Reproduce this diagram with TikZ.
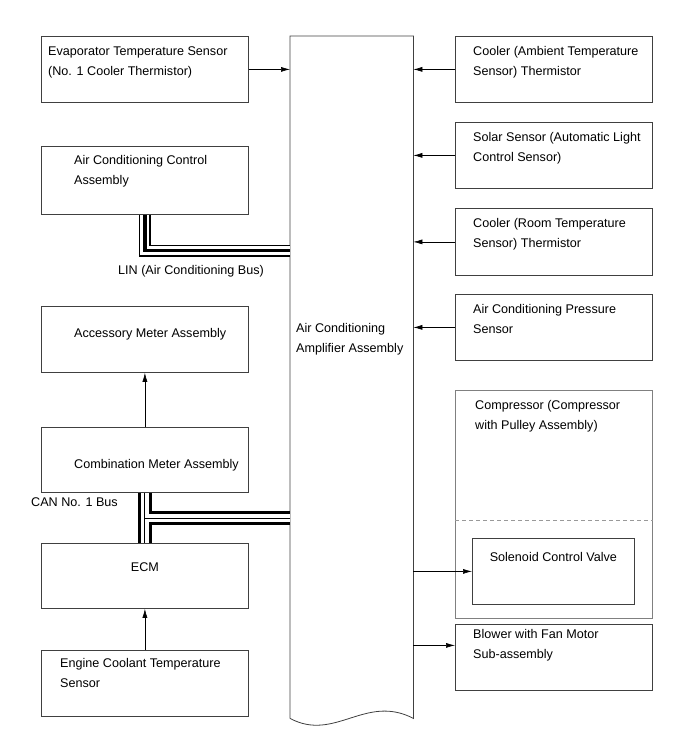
\documentclass[tikz,border=0pt]{standalone}
\usepackage{fontspec}
\setmainfont{Liberation Sans}
\usetikzlibrary{arrows.meta,positioning}
\newcommand{\boxfont}{\fontsize{12.6}{20}\selectfont}
\tikzset{
  unitbox/.style={draw=black!75,line width=0.8pt,minimum width=207pt,minimum height=66pt,anchor=north west,inner sep=0pt},
  partbox/.style={unitbox,minimum width=197pt},
  boxtext/.style={anchor=north west,inner sep=0pt,align=left,font=\boxfont},
  sig/.style={-{Latex[length=9pt,width=5pt]},line width=0.6pt},
  linbus/.style={line width=3.5pt,preaction={draw,black,line width=12pt},preaction={draw,white,line width=9pt}},
  canbus/.style={line width=1pt,preaction={draw,black,line width=14pt},preaction={draw,white,line width=8pt}}
}
\begin{document}
\begin{tikzpicture}[x=1pt,y=-1pt]
\useasboundingbox (0,0) rectangle (690,756);
% left column
\node[unitbox] (evap) at (41,36) {};
\node[unitbox,minimum height=68pt] (acctrl) at (41,146) {};
\node[unitbox] (accmeter) at (41,306) {};
\node[unitbox,minimum height=65pt] (combmeter) at (41,427) {};
\node[unitbox,minimum height=65pt] (ecm) at (41,543) {};
\node[unitbox] (ectsensor) at (41,650) {};
\node[boxtext] (evaptext) at ([shift={(7,10)}]evap.north west) {Evaporator Temperature Sensor\\(No. 1 Cooler Thermistor)};
\node[boxtext] (acctrltext) at ([shift={(33,9)}]acctrl.north west) {Air Conditioning Control\\Assembly};
\node[boxtext] (accmetertext) at ([shift={(33,22)}]accmeter.north west) {Accessory Meter Assembly};
\node[boxtext] (combmetertext) at ([shift={(33,32)}]combmeter.north west) {Combination Meter Assembly};
\node[font=\boxfont,inner sep=0pt] (ecmtext) at ([shift={(0,24)}]ecm.north) {ECM};
\node[boxtext] (ectsensortext) at ([shift={(19,8)}]ectsensor.north west) {Engine Coolant Temperature\\Sensor};
% amplifier
\node[anchor=north west,inner sep=0pt,minimum width=123pt,minimum height=682pt] (amp) at (290,36) {};
\draw[draw=black!75,line width=0.8pt] (amp.south west) -- (amp.north west) -- (amp.north east) -- (amp.south east)
  .. controls +(-48,-25) and +(45,24) .. (amp.south west);
\node[boxtext] (amptext) at (296,323) {Air Conditioning\\Amplifier Assembly};
% right column
\node[partbox] (ambient) at (455,36) {};
\node[partbox] (solar) at (455,122) {};
\node[partbox,minimum height=67pt] (roomtemp) at (455,208) {};
\node[partbox] (pressure) at (455,294) {};
\node[partbox,draw=black!50,minimum height=228pt] (compressor) at (455,390) {};
\node[unitbox,minimum width=162pt] (solenoid) at (472,538) {};
\node[partbox] (blower) at (455,624) {};
\draw[black!40,line width=0.8pt,dash pattern=on 4pt off 3pt] ([shift={(0,130)}]compressor.north west) -- ([shift={(0,130)}]compressor.north east);
\node[boxtext] (ambienttext) at ([shift={(18,10)}]ambient.north west) {Cooler (Ambient Temperature\\Sensor) Thermistor};
\node[boxtext] (solartext) at ([shift={(18,10)}]solar.north west) {Solar Sensor (Automatic Light\\Control Sensor)};
\node[boxtext] (roomtemptext) at ([shift={(18,10)}]roomtemp.north west) {Cooler (Room Temperature\\Sensor) Thermistor};
\node[boxtext] (pressuretext) at ([shift={(18,10)}]pressure.north west) {Air Conditioning Pressure\\Sensor};
\node[boxtext] (compressortext) at ([shift={(20,10)}]compressor.north west) {Compressor (Compressor\\with Pulley Assembly)};
\node[boxtext,anchor=north] (solenoidtext) at ([shift={(0,14)}]solenoid.north) {Solenoid Control Valve};
\node[boxtext] (blowertext) at ([shift={(18,5)}]blower.north west) {Blower with Fan Motor\\Sub-assembly};
% signals
\draw[sig] (evap.east) -- (evap.east -| amp.west);
\draw[sig] (ambient.west) -- (ambient.west -| amp.east);
\draw[sig] (solar.west) -- (solar.west -| amp.east);
\draw[sig] (roomtemp.west) -- (roomtemp.west -| amp.east);
\draw[sig] (pressure.west) -- (pressure.west -| amp.east);
\draw[sig] (solenoid.west -| amp.east) -- (solenoid.west);
\draw[sig] ([shift={(0,-12)}]blower.west -| amp.east) -- ([shift={(0,-12)}]blower.west);
\draw[sig] (combmeter.north) -- (accmeter.south);
\draw[sig] (ectsensor.north) -- (ecm.south);
% buses
\coordinate (linend) at (290,250.5);
\draw[linbus] (acctrl.south) |- (linend);
\node[boxtext] (lintext) at (118,265) {LIN (Air Conditioning Bus)};
\coordinate (canend) at (290,518);
\draw[canbus] (combmeter.south) -- (ecm.north) (combmeter.south |- canend) -- (canend);
\node[boxtext,anchor=north east] (cantext) at (118,497) {CAN No. 1 Bus};
\end{tikzpicture}
\end{document}
